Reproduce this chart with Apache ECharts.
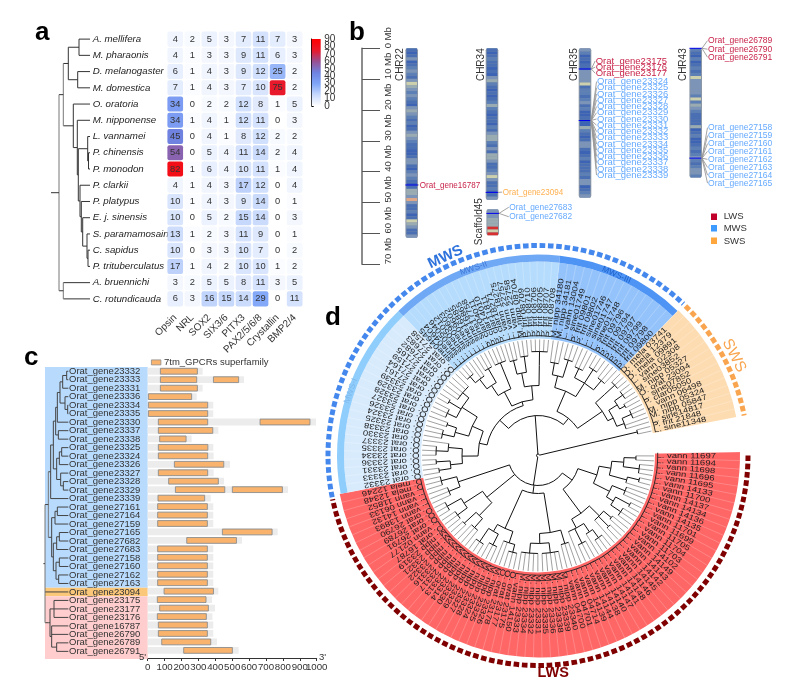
<!DOCTYPE html>
<html><head><meta charset="utf-8">
<script src="https://cdn.jsdelivr.net/npm/echarts@6/dist/echarts.min.js"></script>
<style>html,body{margin:0;padding:0;background:#fff}#c{width:787px;height:684px}</style>
</head><body><div id="c"></div>
<script>
// ---------- panel a data
const species = ["A. mellifera","M. pharaonis","D. melanogaster","M. domestica","O. oratoria","M. nipponense","L. vannamei","P. chinensis","P. monodon","P. clarkii","P. platypus","E. j. sinensis","S. paramamosain","C. sapidus","P. trituberculatus","A. bruennichi","C. rotundicauda"];
const geneFamilies = ["Opsin","NRL","SOX2","SIX3/6","PITX3","PAX2/5/6/8","Crystallin","BMP2/4"];
const copyNumbers = [
[4,2,5,3,7,11,7,3],[4,1,3,3,9,11,6,3],[6,1,4,3,9,12,25,2],[7,1,4,3,7,10,75,2],
[34,0,2,2,12,8,1,5],[34,1,4,1,12,11,0,3],[45,0,4,1,8,12,2,2],[54,0,5,4,11,14,2,4],
[82,1,6,4,10,11,1,4],[4,1,4,3,17,12,0,4],[10,1,4,3,9,14,0,1],[10,0,5,2,15,14,0,3],
[13,1,2,3,11,9,0,1],[10,0,3,3,10,7,0,2],[17,1,4,2,10,10,1,2],[3,2,5,5,8,11,3,5],[6,3,16,15,14,29,0,11]];
const colorBarTicks = [0,10,20,30,40,50,60,70,80,90];
// tree nodes: [depth, children...]; an integer child = that many consecutive tips
const speciesTree = [9,[13.3,[18.3,[29,2],[27.7,2]],[23.3,1,[27.3,1,[28.3,[37.7,1,[38.5,2]],[30,1,[31.3,1,[32.7,1,[37,1,[38,2]]]]]]]]],[13.3,2]];

// ---------- panel b data
const chr22Bands = [1,0,1,3,0,1,2,3,2,1,3,5,4,3,2,3,2,1,0,3,4,3,2,1,2,0,1,3,4,3,2,1,1,0,0,1,3,3,1,0,2,3,2,1,0,1,4,4,3,6,3,1,1,2,0,1,5,4,3,1,1,3];
const chr34Bands = [1,0,1,2,1,1,0,1,0,3,4,2,1,0,1,0,1,2,4,2,1,0,1,1,0,2,1,3,4,4,2,1,3,1,4,4,3,1,1,2,3,5,3,1,1,2,0,1,3];
const chr35Bands = [3,2,0,1,0,1,1,3,3,3,3,5,1,2,2,1,2,3,1,2,0,0,1,0,0,4,2,1,0,1,3,3,1,0,1,2,0,1,1,1,2,1,3,3,0,1,2,3];
const chr43Bands = [2,1,0,2,0,1,2,1,2,5,3,3,3,3,3,2,5,2,4,3,2,1,1,1,1,4,0,1,2,0,0,1,2,1,2,3,2,1,2,3,3,2];
const scaffold45Bands = [3,3,3,4,4,4,7,5,7];
const chr22Genes = ["Orat_gene16787"], chr22Marks=[44.3], chr22LabelMb=[44.3];
const chr34Genes = ["Orat_gene23094"], chr34Marks=[46.7], chr34LabelMb=[46.6];
const chr35LwsGenes = ["Orat_gene23175","Orat_gene23176","Orat_gene23177"], chr35LwsMark=6.7, chr35LwsLabelMb=[4.1,6.1,8.1];
const chr35MwsGenes = ["Orat_gene23324","Orat_gene23325","Orat_gene23326","Orat_gene23327","Orat_gene23328","Orat_gene23329","Orat_gene23330","Orat_gene23331","Orat_gene23332","Orat_gene23333","Orat_gene23334","Orat_gene23335","Orat_gene23336","Orat_gene23337","Orat_gene23338","Orat_gene23339"], chr35MwsMark=23.4, chr35MwsLabelMb=[10.8,12.8,14.8,16.8,18.9,20.9,22.9,24.9,27,29,31,33,35,37.1,39.1,41.1];
const chr43LwsGenes = ["Orat_gene26789","Orat_gene26790","Orat_gene26791"], chr43LwsMark=0, chr43LwsLabelMb=[-2.5,0.3,2.9];
const chr43MwsGenes = ["Orat_gene27158","Orat_gene27159","Orat_gene27160","Orat_gene27161","Orat_gene27162","Orat_gene27163","Orat_gene27164","Orat_gene27165"], chr43MwsMark=35.6, chr43MwsLabelMb=[25.7,28.3,30.9,33.4,36,38.6,41.1,43.7];
const scaffoldGenes = ["Orat_gene27683","Orat_gene27682"], scaffoldMark=53.5, scaffoldLabelMb=[51.5,54.6];
const opsinClasses = ["LWS","MWS","SWS"];

// ---------- panel c data
const lengthTicks = [0,100,200,300,400,500,600,700,800,900,1000];
const domainGenes = ["Orat_gene23332","Orat_gene23333","Orat_gene23331","Orat_gene23336","Orat_gene23334","Orat_gene23335","Orat_gene23330","Orat_gene23337","Orat_gene23338","Orat_gene23325","Orat_gene23324","Orat_gene23326","Orat_gene23327","Orat_gene23328","Orat_gene23329","Orat_gene23339","Orat_gene27161","Orat_gene27164","Orat_gene27159","Orat_gene27165","Orat_gene27682","Orat_gene27683","Orat_gene27158","Orat_gene27160","Orat_gene27162","Orat_gene27163","Orat_gene23094","Orat_gene23175","Orat_gene23177","Orat_gene23176","Orat_gene16787","Orat_gene26790","Orat_gene26789","Orat_gene26791"];
const proteinLengths = [325,570,325,290,388,388,996,418,260,388,390,487,390,452,830,373,388,388,388,769,558,388,388,388,388,388,418,381,398,383,388,388,410,538];
const domainRanges = [[[75,294]],[[75,290],[389,538]],[[75,294]],[[4,260]],[[4,355]],[[4,355]],[[63,355],[665,960]],[[63,385]],[[71,227]],[[63,356]],[[63,355]],[[158,450]],[[63,355]],[[124,418]],[[164,456],[501,797]],[[61,337]],[[59,353]],[[59,353]],[[59,353]],[[442,736]],[[231,525]],[[59,353]],[[59,353]],[[59,353]],[[59,353]],[[59,353]],[[97,389]],[[57,345]],[[71,359]],[[57,347]],[[63,353]],[[63,353]],[[83,373]],[[213,501]]];
const domainTreeTop = [167,[172,[180,[188,[200,2],1],[195,1,[203,2]]],1],[175,2]];
const domainTreeMid = [170,[178,[185,2],1],[182,1,[190,2]]];
const domainTreeLow = [155,[165,[172,2],1],[160,[170,[178,2],1],[168,[178,2],[176,2]]]];
const domainTreePink = [136,[145,[150,[162,3],[155,2,[170,2]]]]];
const domainTree = [135,[138,[145,[152,[160,domainTreeTop,domainTreeMid],1],domainTreeLow]],1,domainTreePink];

// ---------- panel d data (clockwise)
const lwsTips = ["L. vann 11697","L. vann 11694","L. vann 11698","L. vann 11696","L. vann 11695","L. vann 14133","L. vann 11700","L. vann 14137","L. vann 14134","L. vann 14136","L. vann 14135","L. vann 11701","L. vann 11699","L. vann 11705","L. vann 11704","L. vann 11703","L. vann 14102","L. vann 14149","L. vann 14143","L. vann 14142","L. vann 14145","L. vann 14146","L. vann 14148","L. vann 14141","L. vann 14147","L. vann 14140","L. vann 14138","L. vann 14144","L. vann 14139","L. vann 04714","L. vann 04701","L. vann 04700","M. nipp 23340","M. nipp 23339","M. nipp 23338","M. nipp 23336","M. nipp 23335","M. nipp 23331","M. nipp 23332","M. nipp 23334","M. nipp 23333","L. vann 14150","O. orat 23175","O. orat 23177","O. orat 23178","M. nipp 23326","M. nipp 23325","M. nipp 23324","M. nipp 23328","M. nipp 23327","M. nipp 23329","M. nipp 23330","M. nipp 23314","M. nipp 23313","M. nipp 23317","M. nipp 23316","M. nipp 23322","M. nipp 23321","M. nipp 23319","O. orat 16787","L. vann 02177","O. orat 26791","O. orat 26789","O. orat 26790","L. vann 13893","L. vann 14132","L. vann 06133","L. vann 11852","D. mela 12348","D. mela 12246"];
const mws1Tips = ["O. orat 23332","O. orat 23333","O. orat 23331","O. orat 23336","O. orat 23334","O. orat 23335","O. orat 23337","O. orat 23330","O. orat 23338","O. orat 23325","O. orat 23324","O. orat 23326","O. orat 23327","O. orat 23328","O. orat 23329","O. orat 23339","O. orat 27161","O. orat 27164","O. orat 27159","O. orat 27165","O. orat 27682","O. orat 27683","O. orat 27158"];
const mws2Tips = ["L. sine04645","L. sine04604","L. sine05046","L. sine05012","L. sine09603","L. sine09602","L. sine16885","L. sine16865","L. sine17758","P. clar04011","P. clar14010","P. clar11811","P. clar18271","L. vann 18275","L. vann 22757","L. vann 22758","M. nipp 08704","P. frit 08709","P. frit 08710","P. frit 08706","P. frit 08705","P. frit 08707","P. frit 08708"];
const mws3Tips = ["M. nipp 34180","M. nipp 34181","L. vann 13004","L. sine01749","P. frit 09801","P. frit 09802","L. sine01746","L. sine01747","L. sine01748","P. frit 09796","P. frit 09794","P. frit 09797","P. frit 09799","P. frit 09798","P. frit 09800"];
const swsTips = ["D. mela 03741","D. mela 12379","D. mela 09891","L. vann 02308","L. sine03852","M. nipp 05327","O. orat 23094","L. sine07852","P. clar05050","L. vann 06498","M. nipp 05324","M. nipp 05847","L. sine14817","P. frit 21848","L. sine11348"];
const lwsCladeA = [62,[74,[86,[98,2],[102,3]],[92,[104,2],1]],[80,[94,3],[88,[104,2],[100,3]]]];
const lwsCladeB = [72,[86,[96,2],[100,2],1],[82,[92,[102,3],1],[98,3],1]];
const lwsCladeC = [78,[92,3],[88,[98,5],[98,5]]];
const lwsCladeD = [80,[92,[100,3],2],[88,[100,3],[104,3]]];
const lwsCladeE = [66,[84,[96,3],[100,2]],[88,[100,3],[104,3]]];
const lwsCladeF = [84,[96,3],[100,3]];
const mws1Clade = [60,[76,[88,[100,2],[102,2]],[90,[102,3],1]],[72,[86,[98,3],[96,2]],[90,[100,3],[104,2],[98,5]]]];
const mws2Clade = [56,[72,[84,[96,[104,3],2],[100,3]],[88,[100,4]]],[70,[84,[98,3],[100,3]],[90,[104,5]]]];
const mws3Clade = [70,[82,[94,3],[100,3]],[86,[96,3],[102,3],[98,3]]];
const swsClade = [78,[90,[104,3]],[84,[94,[104,3],[100,2]],[92,[102,3],2]]];
const swsOutgroup = [102,2];
const opsinTree = [1.5,[30,[42,lwsCladeA,lwsCladeB],[38,lwsCladeC,lwsCladeD],lwsCladeE,lwsCladeF],[40,[52,mws1Clade,mws2Clade],[48,mws3Clade,swsClade]],swsOutgroup];

// ---------- layout & styles (not data)
const FONT = '"Liberation Sans",Arial,sans-serif';
const arcs = [
 {tips:lwsTips,  a0:89,  a1:259,  fill:'#ff6666', bandFill:'#ff6666'},
 {tips:mws1Tips, a0:259, a1:316,  fill:'#d8ebfd', bandFill:'#8fcdfc'},
 {tips:mws2Tips, a0:316, a1:366.3,fill:'#b5dcfd', bandFill:'#6fa8f5'},
 {tips:mws3Tips, a0:366.3,a1:404, fill:'#94c3fb', bandFill:'#4d94f5'},
 {tips:swsTips,  a0:404, a1:439,  fill:'#fddcb2', bandFill:'#fddcb2'}];
const dashRings = [{a0:258.5,a1:403.8,c:'#4488ee'},{a0:404.6,a1:439,c:'#f9a54f'},{a0:90,a1:258,c:'#800000'}];
const bandColors = ['#3c63b4','#4a6fb2','#5c7fb5','#7b94b8','#9aacb2','#cdd0ac','#e0a888','#d73030'];
const classColor = {LWS:'#c8244a',MWS:'#66aaff',SWS:'#ffb050'};
const chrX = {c22:49.7,c34:130,c35:223,c43:333.7,sc:130.7}, chrW = 12.6;

function layoutTree(tree, tipDepth, posOf, stem){
  const segs=[]; let idx=0;
  (function walk(n,parentD){
    const d=n[0], kids=[];
    n.slice(1).forEach(ch=>{
      if(typeof ch==='number'){ for(let k=0;k<ch;k++){ const p=posOf(idx++); segs.push({t:'h',d1:d,d2:tipDepth,p,tip:true}); kids.push(p);} }
      else kids.push(walk(ch,d));
    });
    const p=(kids[0]+kids[kids.length-1])/2;
    if(kids.length>1) segs.push({t:'v',d,p1:kids[0],p2:kids[kids.length-1]});
    if(parentD!==null) segs.push({t:'h',d1:parentD,d2:d,p});
    return p;
  })(tree,stem===undefined?null:stem);
  return segs;
}
function treeSeries(segs,xi,yi,color,grayBelow){
  return {type:'custom',coordinateSystem:'cartesian2d',xAxisIndex:xi,yAxisIndex:yi,silent:true,z:3,
    data:segs.map((s,i)=>[i,0]),
    renderItem:(params,api)=>{
      const s=segs[params.dataIndex];
      const a=s.t==='h'?api.coord([s.d1,s.p]):api.coord([s.d,s.p1]);
      const b=s.t==='h'?api.coord([s.d2,s.p]):api.coord([s.d,s.p2]);
      return {type:'line',shape:{x1:a[0],y1:a[1],x2:b[0],y2:b[1]},style:{stroke:s.t==='v'&&s.d<grayBelow?'#777':color,lineWidth:1}};
    }};
}
const identity=i=>i;

// panel a series
const heatData=[]; copyNumbers.forEach((r,y)=>r.forEach((v,x)=>heatData.push([x,y,v])));
const treeASegs=layoutTree(speciesTree,40,identity,1);
// panel c
const treeCSegs=layoutTree(domainTree,205,identity,130);
const classBlocks=[{from:-0.5,to:25.5,c:'#b8dbfd'},{from:25.5,to:26.5,c:'#fbc779'},{from:26.5,to:33.9,c:'#ffcdcd'}];

// panel b items
const chrs=[
 {name:'CHR22',x:chrX.c22,start:0,bands:chr22Bands,end:61.4,nameX:-11},
 {name:'CHR34',x:chrX.c34,start:0,bands:chr34Bands,end:49.1,nameX:-11},
 {name:'CHR35',x:chrX.c35,start:0,bands:chr35Bands,end:48.4,nameX:-11},
 {name:'CHR43',x:chrX.c43,start:0,bands:chr43Bands,end:41.9,nameX:-12},
 {name:'Scaffold45',x:chrX.sc,start:52.2,bands:scaffold45Bands,end:60.6,nameX:-13.5,nameY:56.2}];
const marks=[[chrX.c22,44.3],[chrX.c34,46.7],[chrX.c35,6.7],[chrX.c35,23.4],[chrX.c43,0],[chrX.c43,35.6],[chrX.sc,53.5]];
const geneGroups=[
 {g:chr22Genes,m:chr22Marks[0],l:chr22LabelMb,x:chrX.c22,lx:57.7,cls:'LWS',sx:.85},
 {g:chr34Genes,m:chr34Marks[0],l:chr34LabelMb,x:chrX.c34,lx:140.7,cls:'SWS',sx:.85},
 {g:chr35LwsGenes,m:chr35LwsMark,l:chr35LwsLabelMb,x:chrX.c35,lx:233.7,cls:'LWS',sx:1},
 {g:chr35MwsGenes,m:chr35MwsMark,l:chr35MwsLabelMb,x:chrX.c35,lx:235,cls:'MWS',sx:1},
 {g:chr43LwsGenes,m:chr43LwsMark,l:chr43LwsLabelMb,x:chrX.c43,lx:346,cls:'LWS',sx:.9},
 {g:chr43MwsGenes,m:chr43MwsMark,l:chr43MwsLabelMb,x:chrX.c43,lx:346,cls:'MWS',sx:.9},
 {g:scaffoldGenes,m:scaffoldMark,l:scaffoldLabelMb,x:chrX.sc,lx:147.3,cls:'MWS',sx:.88}];

const bandItems=[]; chrs.forEach(c=>c.bands.forEach((lv,i)=>bandItems.push({x:c.x,y0:c.start+i*(c.end-c.start)/c.bands.length,y1:c.start+(i+1)*(c.end-c.start)/c.bands.length,lv})));
const geneItems=[]; geneGroups.forEach(g=>g.g.forEach((name,i)=>geneItems.push({name,mark:g.m,label:g.l[i],x:g.x,lx:g.lx,cls:g.cls,sx:g.sx})));

// panel d items
const tipList=[]; arcs.forEach(s=>s.tips.forEach((t,i)=>tipList.push({t,a:s.a0+(i+.5)*(s.a1-s.a0)/s.tips.length})));
const tipAngle=i=>tipList[i].a;
const dSegs=layoutTree(opsinTree,116,tipAngle);
const sepAngles=[]; arcs.forEach(s=>s.tips.forEach((t,i)=>sepAngles.push({a:s.a0+i*(s.a1-s.a0)/s.tips.length,r:s.fill==='#ff6666'||s.fill==='#fddcb2'?202:194})));
const curvedTitles=[
 {t:'MWS-I',r:198,a:289,c:'#7fb8ec',fs:8.5,b:'normal'},{t:'MWS-II',r:198,a:341,c:'#3f79d8',fs:8.5,b:'normal'},{t:'MWS-III',r:197,a:23.5,c:'#1f62c8',fs:8.5,b:'normal'},
 {t:'MWS',r:219,a:335,c:'#2f74dc',fs:15,b:'bold'},{t:'SWS',r:220,a:63,c:'#f9a54f',fs:15.5,b:'normal'},{t:'LWS',r:218,a:176,c:'#800000',fs:14.5,b:'bold',flat:true}];
const rad=a=>(a-90)*Math.PI/180;
function center(api){return api.coord([0,0]);}

function polarSeries(items,fn,z){
  return {type:'custom',coordinateSystem:'polar',polarIndex:0,silent:true,z:z||2,data:items.map((s,i)=>[i,0]),
    renderItem:(params,api)=>fn(items[params.dataIndex],api)};
}
const bSeries=(items,fn,z)=>({type:'custom',coordinateSystem:'cartesian2d',xAxisIndex:3,yAxisIndex:3,silent:true,z:z||2,data:items.map((s,i)=>[i,0]),
    renderItem:(params,api)=>fn(items[params.dataIndex],api)});

const option={
 animation:false,backgroundColor:'#fff',textStyle:{fontFamily:FONT},
 visualMap:[{show:false,type:'continuous',min:0,max:90,dimension:2,seriesIndex:0,inRange:{color:['#ffffff','#c6d8fc','#7fa6f8','#6f82e0','#9a4e90','#e8192a','#ff0000']}}],
 polar:{center:[538,455.5],radius:230},
 radiusAxis:{polarIndex:0,type:'value',min:0,max:230,show:false},
 angleAxis:{polarIndex:0,type:'value',min:0,max:360,startAngle:90,clockwise:true,show:false},
 grid:[
  {left:166.7,top:31,width:136.5,height:276},
  {left:50,top:31,width:45,height:276},
  {left:311.7,top:39,width:9,height:67},
  {left:362,top:48.3,width:425,height:216},
  {left:45,top:367,width:102.7,height:292},
  {left:147.7,top:367,width:169,height:291}],
 xAxis:[
  {gridIndex:0,type:'category',data:geneFamilies,axisLine:{show:false},axisTick:{show:false},axisLabel:{rotate:45,fontSize:10,color:'#333',margin:9,interval:0},position:'bottom'},
  {gridIndex:1,type:'value',min:0,max:45,show:false},
  {gridIndex:2,type:'value',min:0,max:1,show:false},
  {gridIndex:3,type:'value',min:0,max:425,show:false},
  {gridIndex:4,type:'value',min:135,max:443,show:false},
  {gridIndex:5,type:'value',position:'bottom',min:0,max:1000,interval:100,splitLine:{show:false},axisLine:{onZero:false,lineStyle:{color:'#333'}},axisTick:{length:3,lineStyle:{color:'#333'}},axisLabel:{show:false}}],
 yAxis:[
  {gridIndex:0,type:'category',inverse:true,data:species,axisLine:{show:false},axisTick:{show:false},axisLabel:{align:'left',margin:74,fontStyle:'italic',fontSize:9.7,color:'#222',interval:0}},
  {gridIndex:1,type:'value',inverse:true,min:-0.5,max:16.5,show:false},
  {gridIndex:2,type:'value',position:'right',min:0,max:90,interval:10,splitLine:{show:false},axisLine:{show:true,lineStyle:{color:'#000'}},axisTick:{show:true,length:2,lineStyle:{color:'#000'}},axisLabel:{show:false}},
  {gridIndex:3,type:'value',inverse:true,position:'left',min:0,max:70,interval:10,splitLine:{show:false},axisLine:{show:true,lineStyle:{color:'#666',width:1.5}},axisTick:{show:true,inside:true,length:18,lineStyle:{color:'#555',width:1}},axisLabel:{inside:true,rotate:90,align:'left',verticalAlign:'middle',margin:26,formatter:'{value} Mb',fontSize:9.5,color:'#333',showMinLabel:true,showMaxLabel:true,hideOverlap:false}},
  {gridIndex:4,type:'value',inverse:true,min:-0.5,max:33.9,show:false},
  {gridIndex:5,type:'value',inverse:true,min:-0.5,max:33.9,show:false}],
 series:[
  // heat cells
  {type:'custom',coordinateSystem:'cartesian2d',xAxisIndex:0,yAxisIndex:0,silent:true,data:heatData,
   renderItem:(params,api)=>{
    const p=api.coord([api.value(0),api.value(1)]),s=api.size([1,1]),w=s[0]-1.4,h=s[1]-1.2;
    return {type:'group',children:[
      {type:'rect',shape:{x:p[0]-w/2,y:p[1]-h/2,width:w,height:h,r:2},style:{fill:api.visual('color')}},
      {type:'text',x:p[0],y:p[1],style:{text:String(api.value(2)),fontSize:9.3,fill:'#333',align:'center',verticalAlign:'middle',fontFamily:FONT}}]};
   }},
  treeSeries(treeASegs,1,1,'#333',14),
  // colour bar
  {type:'custom',coordinateSystem:'cartesian2d',xAxisIndex:2,yAxisIndex:2,silent:true,data:[[0,90]],
   renderItem:(params,api)=>{const a=api.coord([0,90]),b=api.coord([1,0]);
    return {type:'rect',shape:{x:a[0],y:a[1],width:b[0]-a[0],height:b[1]-a[1]},style:{fill:new echarts.graphic.LinearGradient(0,0,0,1,[{offset:0,color:'#ff0000'},{offset:.17,color:'#e8192a'},{offset:.33,color:'#9a4e90'},{offset:.5,color:'#6f82e0'},{offset:.67,color:'#7fa6f8'},{offset:.83,color:'#c6d8fc'},{offset:1,color:'#ffffff'}])}};}},
  // colour bar tick labels (every one shown, overlapping as in the figure)
  {type:'custom',coordinateSystem:'cartesian2d',xAxisIndex:2,yAxisIndex:2,silent:true,z:5,data:colorBarTicks.map(v=>[1,v]),
   renderItem:(params,api)=>{const p=api.coord([1,api.value(1)]);
    return {type:'text',x:p[0]+3.5,y:p[1],style:{text:String(api.value(1)),fontSize:10,fill:'#333',align:'left',verticalAlign:'middle',fontFamily:FONT}};}},
  // chromosomes
  bSeries(chrs,(c,api)=>{const a=api.coord([c.x-chrW/2,c.start]),b=api.coord([c.x+chrW/2,c.end]),n=api.coord([c.x+c.nameX,c.nameY===undefined?0:c.nameY]);
    return {type:'group',children:[
      {type:'rect',shape:{x:a[0],y:a[1],width:b[0]-a[0],height:b[1]-a[1],r:2},style:{fill:'#8b97a6'}},
      {type:'text',x:n[0],y:n[1],rotation:Math.PI/2,style:{text:c.name,fontSize:10,fill:'#333',align:c.name[0]==='S'?'center':'right',verticalAlign:'middle',fontFamily:FONT}}]};},2),
  bSeries(bandItems,(s,api)=>{const a=api.coord([s.x-chrW/2+1,s.y0]),b=api.coord([s.x+chrW/2-1,s.y1]);
    return {type:'rect',shape:{x:a[0],y:a[1],width:b[0]-a[0],height:b[1]-a[1]},style:{fill:bandColors[s.lv]}};},3),
  bSeries(marks,(m,api)=>{const a=api.coord([m[0]-chrW/2,m[1]]),b=api.coord([m[0]+chrW/2,m[1]]);
    return {type:'line',shape:{x1:a[0],y1:a[1],x2:b[0],y2:b[1]},style:{stroke:'#0000ee',lineWidth:1}};},4),
  bSeries(geneItems,(g,api)=>{const a=api.coord([g.x+chrW/2,g.mark]),b=api.coord([g.lx-0.5,g.label]);
    return {type:'group',children:[
     {type:'line',shape:{x1:a[0],y1:a[1],x2:b[0],y2:b[1]},style:{stroke:'#999',lineWidth:0.9}},
     {type:'text',x:b[0]+.5,y:b[1],scaleX:g.sx,style:{text:g.name,fontSize:9.5,fill:classColor[g.cls],align:'left',verticalAlign:'middle',fontFamily:FONT}}]};},4),
  // panel c backgrounds, tree, labels
  {type:'custom',coordinateSystem:'cartesian2d',xAxisIndex:4,yAxisIndex:4,silent:true,z:1,data:classBlocks.map((b,i)=>[i,0]),
   renderItem:(params,api)=>{const b=classBlocks[params.dataIndex],p=api.coord([135,b.from]),q=api.coord([443,b.to]);
    return {type:'rect',shape:{x:p[0],y:p[1],width:q[0]-p[0],height:q[1]-p[1]},style:{fill:b.c}};}},
  treeSeries(treeCSegs,4,4,'#444',146),
  {type:'custom',coordinateSystem:'cartesian2d',xAxisIndex:4,yAxisIndex:4,silent:true,z:4,data:domainGenes.map((g,i)=>[207,i]),
   renderItem:(params,api)=>{const p=api.coord([207,params.dataIndex]);
    return {type:'text',x:p[0],y:p[1],style:{text:domainGenes[params.dataIndex],fontSize:9.5,fill:'#333',align:'left',verticalAlign:'middle',fontFamily:FONT}};}},
  {type:'custom',coordinateSystem:'cartesian2d',xAxisIndex:5,yAxisIndex:5,silent:true,z:2,data:proteinLengths.map((v,i)=>[v,i]),
   renderItem:(params,api)=>{const i=params.dataIndex,p0=api.coord([0,i]),p1=api.coord([proteinLengths[i],i]);
    const kids=[{type:'rect',shape:{x:p0[0],y:p0[1]-3.4,width:p1[0]-p0[0],height:6.8},style:{fill:'#ececec'}}];
    domainRanges[i].forEach(r=>{const a=api.coord([r[0],i]),b=api.coord([r[1],i]);
      kids.push({type:'rect',shape:{x:a[0],y:a[1]-2.9,width:b[0]-a[0],height:5.8},style:{fill:'#f9b36c',stroke:'#8d8d8d',lineWidth:0.9}});});
    return {type:'group',children:kids};}},
  // length axis tick labels (every one shown, touching as in the figure)
  {type:'custom',coordinateSystem:'cartesian2d',xAxisIndex:5,yAxisIndex:5,silent:true,z:5,data:lengthTicks.map(v=>[v,33.9]),
   renderItem:(params,api)=>{const p=api.coord([api.value(0),33.9]);
    return {type:'text',x:p[0],y:p[1]+9,style:{text:String(api.value(0)),fontSize:9.7,fill:'#333',align:'center',verticalAlign:'middle',fontFamily:FONT}};}},
  // panel d fills
  polarSeries(arcs,(s,api)=>{const c=center(api);const lim=(s.fill==='#ff6666'||s.fill==='#fddcb2');
    const kids=[{type:'sector',shape:{cx:c[0],cy:c[1],r0:117,r:lim?202:194,startAngle:rad(s.a0),endAngle:rad(s.a1),clockwise:true},style:{fill:s.fill}}];
    if(!lim) kids.push({type:'sector',shape:{cx:c[0],cy:c[1],r0:194,r:201,startAngle:rad(s.a0),endAngle:rad(s.a1),clockwise:true},style:{fill:s.bandFill}});
    return {type:'group',children:kids};},1),
  polarSeries(sepAngles,(s,api)=>{const a=api.coord([120,s.a%360]),b=api.coord([s.r,s.a%360]);
    return {type:'line',shape:{x1:a[0],y1:a[1],x2:b[0],y2:b[1]},style:{stroke:'rgba(255,255,255,0.35)',lineWidth:0.6}};},2),
  polarSeries(dashRings,(s,api)=>{const c=center(api);
    return {type:'arc',shape:{cx:c[0],cy:c[1],r:210,startAngle:rad(s.a0),endAngle:rad(s.a1),clockwise:true},style:{stroke:s.c,fill:null,lineWidth:5,lineDash:[5.6,2.7]}};},2),
  polarSeries(dSegs,(s,api)=>{
    const c=center(api);
    if(s.t==='v') return {type:'arc',shape:{cx:c[0],cy:c[1],r:s.d,startAngle:rad(s.p1),endAngle:rad(s.p2),clockwise:true},style:{stroke:'#111',fill:null,lineWidth:1}};
    const a=api.coord([s.d1,s.p%360]),b=api.coord([s.d2,s.p%360]);
    return {type:'line',shape:{x1:a[0],y1:a[1],x2:b[0],y2:b[1]},style:{stroke:s.tip?'#888':'#111',lineWidth:s.tip?0.8:1}};},3),
  polarSeries(tipList,(t,api)=>{const p=api.coord([118.5,t.a%360]);
    return {type:'text',x:p[0],y:p[1],rotation:(90-t.a)*Math.PI/180,scaleX:1.25,style:{text:t.t,fontSize:7.6,fill:'#222',align:'left',verticalAlign:'middle',fontFamily:FONT}};},4),
  polarSeries(curvedTitles,(t,api)=>{const p=api.coord([t.r,t.a]);
    return {type:'text',x:p[0],y:p[1],rotation:(t.flat?0:(t.a>180?360-t.a:-t.a))*Math.PI/180,style:{text:t.t,fontSize:t.fs,fontWeight:t.b,fill:t.c,align:'center',verticalAlign:'middle',fontFamily:FONT}};},5)
 ],
 graphic:[
  ...[['a',35,20],['b',349,20],['c',24,345],['d',325,305]].map(o=>({type:'text',z:20,left:o[1],top:o[2],style:{text:o[0],font:'bold 26px '+FONT,fill:'#000'}})),
  {type:'rect',z:20,left:151,top:359.5,shape:{width:9.5,height:5},style:{fill:'#f9b36c',stroke:'#8d8d8d',lineWidth:0.8}},
  {type:'text',z:20,left:164,top:357,style:{text:'7tm_GPCRs superfamily',font:'9.5px '+FONT,fill:'#333'}},
  {type:'text',z:20,left:139,top:652,style:{text:"5'",font:'9.5px '+FONT,fill:'#333'}},
  {type:'text',z:20,left:319,top:652,style:{text:"3'",font:'9.5px '+FONT,fill:'#333'}},
  ...opsinClasses.map((c,i)=>({type:'rect',z:20,left:711,top:[213.5,225,237.5][i],shape:{width:6,height:6.5},style:{fill:{LWS:'#c0002a',MWS:'#3d9bff',SWS:'#ffa73d'}[c]}})),
  ...opsinClasses.map((c,i)=>({type:'text',z:20,left:723.7,top:[211.5,223.5,236][i],style:{text:c,font:'9.5px '+FONT,fill:'#333'}}))
 ]
};
const chart=echarts.init(document.getElementById('c'),null,{renderer:'canvas'});
chart.setOption(option);
</script></body></html>
